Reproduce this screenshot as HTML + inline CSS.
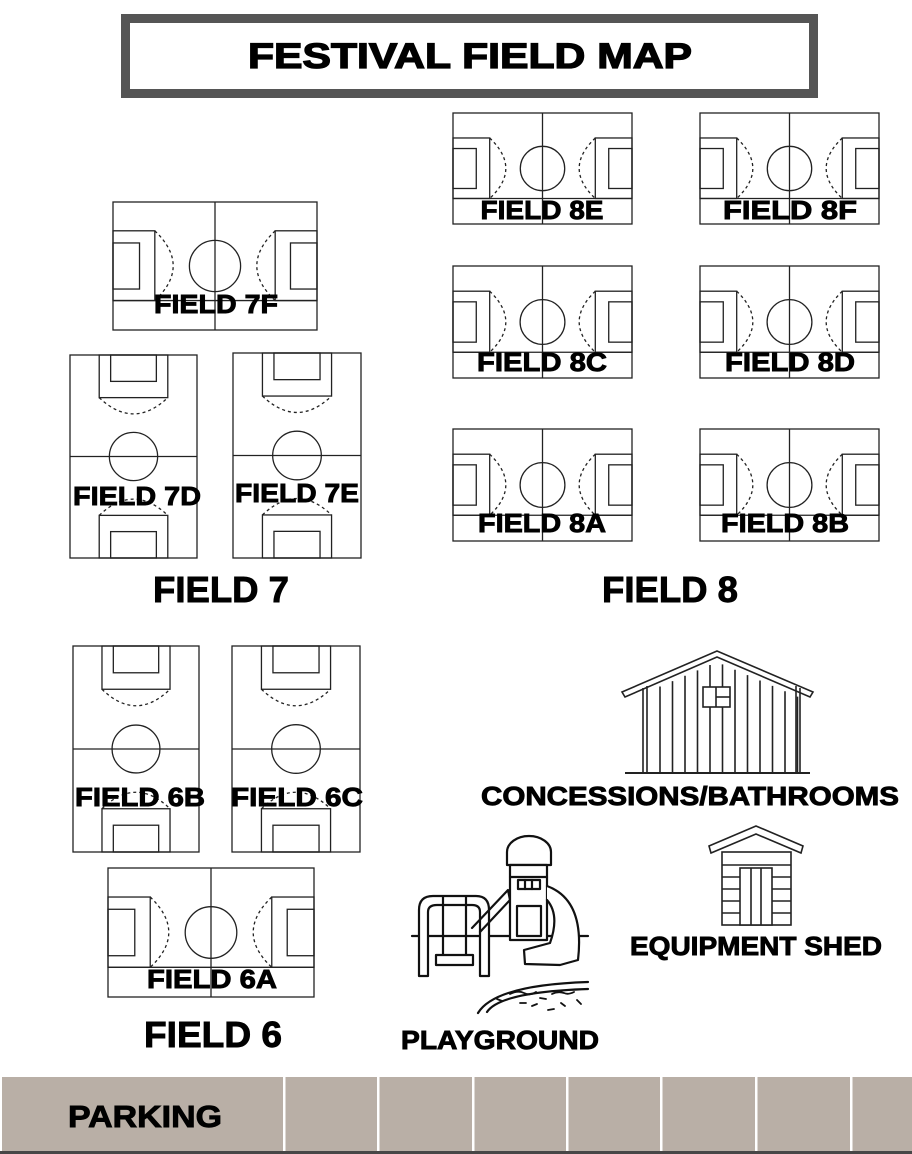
<!DOCTYPE html>
<html><head><meta charset="utf-8"><style>
html,body{margin:0;padding:0;background:#fff}
svg{display:block}
text{font-family:"Liberation Sans",sans-serif;font-weight:bold;fill:#000;stroke:#000;stroke-width:0.9px}
</style></head><body>
<svg id="s" width="912" height="1154" viewBox="0 0 912 1154" xmlns="http://www.w3.org/2000/svg">
<rect x="0" y="0" width="912" height="1154" fill="#fff"/>
<!-- title -->
<rect x="125.5" y="18.5" width="688" height="75" fill="#fff" stroke="#555" stroke-width="9"/>
<text x="470" y="68" font-size="35" text-anchor="middle" textLength="444" lengthAdjust="spacingAndGlyphs" style="stroke-width:1.3px">FESTIVAL FIELD MAP</text>

<g id="fields" fill="none" stroke="#222" stroke-width="1.3"></g>

<!-- field labels -->
<g font-size="26">
<text x="542" y="219" text-anchor="middle" textLength="123" lengthAdjust="spacingAndGlyphs">FIELD 8E</text>
<text x="790" y="219" text-anchor="middle" textLength="134" lengthAdjust="spacingAndGlyphs">FIELD 8F</text>
<text x="542" y="371" text-anchor="middle" textLength="130" lengthAdjust="spacingAndGlyphs">FIELD 8C</text>
<text x="790" y="371" text-anchor="middle" textLength="130" lengthAdjust="spacingAndGlyphs">FIELD 8D</text>
<text x="542" y="532" text-anchor="middle" textLength="128" lengthAdjust="spacingAndGlyphs">FIELD 8A</text>
<text x="785" y="532" text-anchor="middle" textLength="128" lengthAdjust="spacingAndGlyphs">FIELD 8B</text>
<text x="216" y="313" text-anchor="middle" textLength="124" lengthAdjust="spacingAndGlyphs">FIELD 7F</text>
<text x="137" y="505" text-anchor="middle" textLength="128" lengthAdjust="spacingAndGlyphs">FIELD 7D</text>
<text x="297" y="502" text-anchor="middle" textLength="124" lengthAdjust="spacingAndGlyphs">FIELD 7E</text>
<text x="140" y="806" text-anchor="middle" textLength="130" lengthAdjust="spacingAndGlyphs">FIELD 6B</text>
<text x="297" y="806" text-anchor="middle" textLength="132" lengthAdjust="spacingAndGlyphs">FIELD 6C</text>
<text x="212" y="988" text-anchor="middle" textLength="130" lengthAdjust="spacingAndGlyphs">FIELD 6A</text>
<text x="690" y="805" text-anchor="middle" textLength="418" lengthAdjust="spacingAndGlyphs">CONCESSIONS/BATHROOMS</text>
<text x="756" y="955" text-anchor="middle" textLength="252" lengthAdjust="spacingAndGlyphs">EQUIPMENT SHED</text>
<text x="500" y="1049" text-anchor="middle" textLength="198" lengthAdjust="spacingAndGlyphs">PLAYGROUND</text>
</g>
<g font-size="36">
<text x="221" y="602" text-anchor="middle" textLength="136" lengthAdjust="spacingAndGlyphs">FIELD 7</text>
<text x="670" y="602" text-anchor="middle" textLength="136" lengthAdjust="spacingAndGlyphs">FIELD 8</text>
<text x="213" y="1047" text-anchor="middle" textLength="138" lengthAdjust="spacingAndGlyphs">FIELD 6</text>
</g>

<!-- concessions building -->
<g fill="none" stroke="#222" stroke-width="1.6">
<polygon points="622,692 717,651 813,692 810,697 717,657 625,697" fill="#fff"/>
<line x1="625" y1="773" x2="810" y2="773" stroke-width="2"/>
<line x1="643" y1="688" x2="643" y2="772"/><line x1="647" y1="686" x2="647" y2="772"/>
<line x1="800" y1="688" x2="800" y2="772"/><line x1="796" y1="686" x2="796" y2="772"/>
<g id="planks"></g>
<rect x="703" y="687" width="27" height="20" fill="#fff"/>
<line x1="716" y1="687" x2="716" y2="707"/><line x1="716" y1="697" x2="730" y2="697"/>
</g>

<!-- shed -->
<g fill="none" stroke="#222" stroke-width="1.6">
<polygon points="709,846 756,826 803,846 801,853 756,834 711,853"/>
<rect x="722" y="852" width="69" height="73"/>
<line x1="722" y1="865" x2="791" y2="865"/><line x1="722" y1="877" x2="791" y2="877"/>
<line x1="722" y1="889" x2="791" y2="889"/><line x1="722" y1="901" x2="791" y2="901"/><line x1="722" y1="913" x2="791" y2="913"/>
<rect x="740" y="868" width="32" height="57" fill="#fff"/>
<line x1="751" y1="868" x2="751" y2="925"/><line x1="761" y1="868" x2="761" y2="925"/>
</g>

<!-- playground -->
<g fill="none" stroke="#111" stroke-width="2.2" stroke-linecap="round" stroke-linejoin="round">
<line x1="412" y1="936" x2="588" y2="936"/>
<path d="M419,976 V910 Q419,896 433,896 H476 Q489,896 489,910 V976 H480 V912 Q480,905 472,905 H437 Q428,905 428,912 V976 Z" fill="#fff"/>
<line x1="443" y1="897" x2="443" y2="956"/><line x1="466" y1="897" x2="466" y2="956"/>
<rect x="436" y="955" width="37" height="10" fill="#fff"/>
<path d="M472,928 L508,890 L510,900 L480,932"/>
<path d="M507,865 V852 A22,16 0 0 1 551,852 V865 Z" fill="#fff"/>
<rect x="510" y="865" width="37" height="75" fill="#fff"/>
<line x1="510" y1="877" x2="547" y2="877"/>
<rect x="518" y="880" width="22" height="9"/><line x1="525" y1="880" x2="525" y2="889"/><line x1="532" y1="880" x2="532" y2="889"/>
<rect x="517" y="906" width="24" height="30"/>
<path d="M547,886 Q585,900 578,960 L560,965 L525,964 L524,950 L550,943 Q560,915 547,900" fill="#fff"/>
<path d="M478,1013 Q495,985 588,982"/>
<path d="M487,1012 Q500,992 588,989"/>
<path d="M497,999 l5,2 M510,994 q8,-4 14,-1 q6,3 12,-1 M520,1003 l6,0 M540,998 l6,1 M552,994 q6,-3 12,-1 q4,2 10,-1 M532,1006 l5,-2 M561,1003 l4,3 M577,1000 l4,4 M548,1010 l6,-1" stroke-width="1.8"/>
</g>

<!-- parking -->
<rect x="2" y="1077" width="910" height="74" fill="#b9afa6"/>
<rect x="0" y="1151" width="912" height="3" fill="#474747"/>
<g fill="#fff">
<rect x="283" y="1077" width="2.5" height="74"/><rect x="377" y="1077" width="2.5" height="74"/>
<rect x="472" y="1077" width="2.5" height="74"/><rect x="566" y="1077" width="2.5" height="74"/>
<rect x="660" y="1077" width="2.5" height="74"/><rect x="755" y="1077" width="2.5" height="74"/>
<rect x="850" y="1077" width="2.5" height="74"/>
</g>
<text x="68" y="1127" font-size="31" textLength="154" lengthAdjust="spacingAndGlyphs">PARKING</text>

<script>
(function(){
var g=document.getElementById('fields');var NS='http://www.w3.org/2000/svg';
function el(t,a){var e=document.createElementNS(NS,t);for(var k in a)e.setAttribute(k,a[k]);g.appendChild(e);return e;}
function H(x,y,w,h){
 el('rect',{x:x,y:y,width:w,height:h});
 el('line',{x1:x+w/2,y1:y,x2:x+w/2,y2:y+h});
 var pt=y+0.225*h,pb=y+0.77*h,pw=0.205*w,gt=y+0.32*h,gb=y+0.68*h,gw=0.13*w;
 el('line',{x1:x,y1:pb,x2:x+w,y2:pb});
 el('rect',{x:x,y:pt,width:pw,height:pb-pt});
 el('rect',{x:x+w-pw,y:pt,width:pw,height:pb-pt});
 el('rect',{x:x,y:gt,width:gw,height:gb-gt});
 el('rect',{x:x+w-gw,y:gt,width:gw,height:gb-gt});
 el('circle',{cx:x+w/2,cy:y+h/2,r:0.2*h});
 var b=0.09*w;
 el('path',{d:'M'+(x+pw)+','+pt+' Q'+(x+pw+2*b)+','+(y+h*0.5)+' '+(x+pw)+','+pb,'stroke-dasharray':'3,3'});
 el('path',{d:'M'+(x+w-pw)+','+pt+' Q'+(x+w-pw-2*b)+','+(y+h*0.5)+' '+(x+w-pw)+','+pb,'stroke-dasharray':'3,3'});
}
function V(x,y,w,h){
 el('rect',{x:x,y:y,width:w,height:h});
 el('line',{x1:x,y1:y+h/2,x2:x+w,y2:y+h/2});
 var pl=x+0.23*w,pr=x+0.77*w,ph=0.21*h,gl=x+0.32*w,gr=x+0.68*w,gh=0.13*h;
 el('rect',{x:pl,y:y,width:pr-pl,height:ph});
 el('rect',{x:pl,y:y+h-ph,width:pr-pl,height:ph});
 el('rect',{x:gl,y:y,width:gr-gl,height:gh});
 el('rect',{x:gl,y:y+h-gh,width:gr-gl,height:gh});
 el('circle',{cx:x+w/2,cy:y+h/2,r:0.19*w});
 var b=0.08*h;
 el('path',{d:'M'+pl+','+(y+ph)+' Q'+(x+w/2)+','+(y+ph+2*b)+' '+pr+','+(y+ph),'stroke-dasharray':'3,3'});
 el('path',{d:'M'+pl+','+(y+h-ph)+' Q'+(x+w/2)+','+(y+h-ph-2*b)+' '+pr+','+(y+h-ph),'stroke-dasharray':'3,3'});
}
H(453,113,179,111);H(700,113,179,111);
H(453,266,179,112);H(700,266,179,112);
H(453,429,179,112);H(700,429,179,112);
H(113,202,204,128);H(108,868,206,129);
V(70,355,127,203);V(233,353,128,205);
V(73,646,126,206);V(232,646,128,206);
var p=document.getElementById('planks');
for(var i=0;i<12;i++){var xx=660+i*12.5;
 var l=document.createElementNS(NS,'line');l.setAttribute('x1',xx);l.setAttribute('x2',xx);l.setAttribute('y1',660+Math.abs(xx-717)*0.43+2);l.setAttribute('y2',772);p.appendChild(l);}
})();
</script>
</svg>
</body></html>
